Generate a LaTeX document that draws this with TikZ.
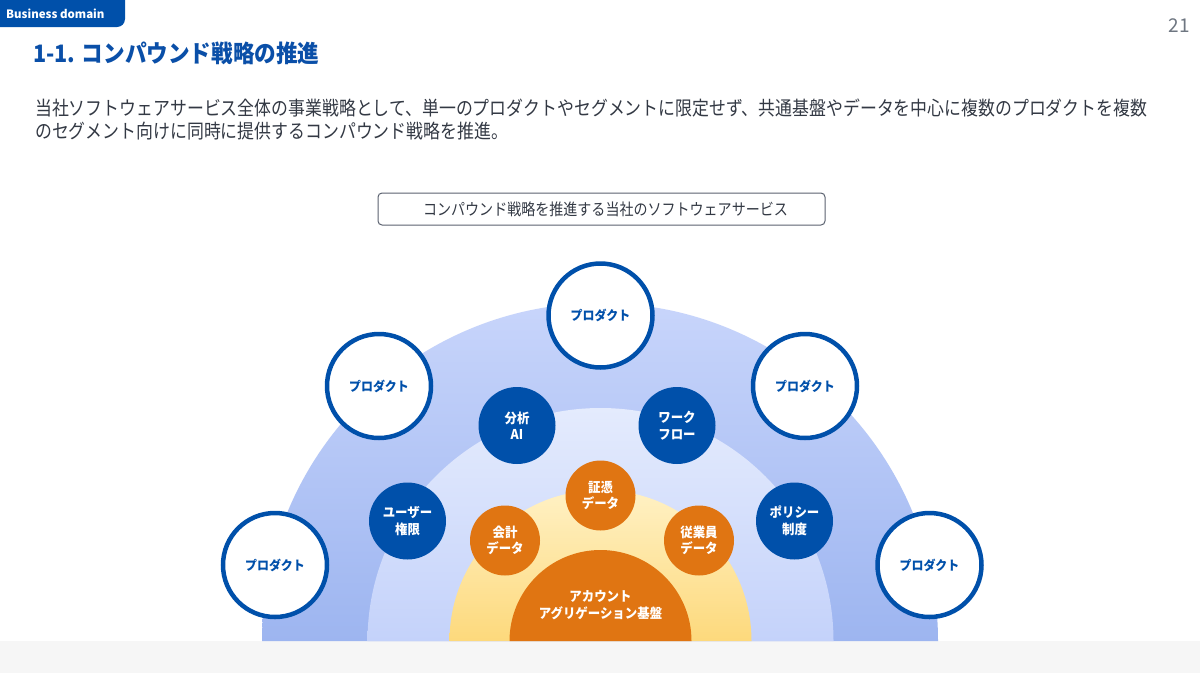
\documentclass[tikz,border=0pt]{standalone}
\usepackage{fontspec}
\setmainfont{Noto Sans CJK JP}
\newfontfamily\cjkc[FakeStretch=0.866]{Noto Sans CJK JP}
\newfontfamily\cjkl[FakeStretch=0.92]{Noto Sans CJK JP}
\newfontfamily\cjkt[FakeStretch=0.9]{Noto Sans CJK JP}
\definecolor{cblue}{HTML}{0050AA}
\definecolor{titleblue}{HTML}{0A4FA8}
\definecolor{txtgray}{HTML}{333944}
\definecolor{numgray}{HTML}{6E7681}
\definecolor{boxgray}{HTML}{5B6270}
\definecolor{bandgray}{HTML}{F6F6F6}
\definecolor{corange}{HTML}{E07512}
\definecolor{outtop}{HTML}{C8D5FB}
\definecolor{outbot}{HTML}{9DB5F0}
\definecolor{midtop}{HTML}{E4EBFD}
\definecolor{midbot}{HTML}{C4D2FA}
\definecolor{yeltop}{HTML}{FFF1C4}
\definecolor{yelbot}{HTML}{FDD97C}
\tikzset{
  prod/.style={circle, draw=cblue, line width=4.5pt, fill=white, minimum size=104pt, inner sep=0pt,
    text=cblue, font=\cjkl\bfseries\fontsize{13}{16}\selectfont},
  darkc/.style={circle, fill=cblue, minimum size=77pt, inner sep=0pt, align=center,
    text=white, font=\cjkl\bfseries\fontsize{13.5}{16.5}\selectfont},
  orac/.style={circle, fill=corange, minimum size=70pt, inner sep=0pt, align=center,
    text=white, font=\cjkl\bfseries\fontsize{13.5}{16.5}\selectfont},
  para/.style={anchor=west, inner sep=0pt, text=txtgray, font=\cjkc\fontsize{19.5}{24}\selectfont}
}
\begin{document}
\begin{tikzpicture}[x=1pt,y=-1pt]
\useasboundingbox (0,0) rectangle (1200,673);
\fill[white] (0,0) rectangle (1200,673);
\fill[bandgray] (0,641) rectangle (1200,673);
% tab
\fill[cblue, rounded corners=8pt] (-20,-20) rectangle (125,27);
\node[anchor=west, inner sep=0pt, text=white, font=\bfseries\fontsize{11.5}{14}\selectfont] (tab) at (6,13.5) {Business domain};
% title
\node[anchor=west, inner sep=0pt, text=titleblue, font=\cjkt\bfseries\fontsize{24}{28}\selectfont] (title) at (33,53) {1-1. コンパウンド戦略の推進};
\node[anchor=east, inner sep=0pt, text=numgray, font=\fontsize{19}{22}\selectfont] (pg) at (1190,26) {21};
% paragraph
\node[para] (l1) at (35,108) {当社ソフトウェアサービス全体の事業戦略として、単一のプロダクトやセグメントに限定せず、共通基盤やデータを中心に複数のプロダクトを複数};
\node[para] (l2) at (35,131) {のセグメント向けに同時に提供するコンパウンド戦略を推進。};
% header box
\node[draw=boxgray, line width=1pt, rounded corners=4pt, minimum width=447pt, minimum height=32pt, inner sep=0pt,
  text=txtgray, font=\cjkc\fontsize{16.2}{20}\selectfont] (hdr) at (601.5,209) {\hspace{8pt}コンパウンド戦略を推進する当社のソフトウェアサービス};
% arches
\shade[top color=outtop, bottom color=outbot] (262,641) arc[start angle=180, end angle=0, radius=338pt] -- cycle;
\shade[top color=midtop, bottom color=midbot] (367.5,641) arc[start angle=180, end angle=0, radius=233pt] -- cycle;
\shade[top color=yeltop, bottom color=yelbot] (449.5,641) arc[start angle=180, end angle=0, radius=151pt] -- cycle;
\fill[corange] (509.5,641) arc[start angle=180, end angle=0, radius=91pt] -- cycle;
\node[align=center, inner sep=0pt, text=white, font=\cjkl\bfseries\fontsize{13.5}{16.5}\selectfont] (core) at (600.5,605) {アカウント\\アグリゲーション基盤};
% orange circles
\node[orac] (o1) at (600.5,495.5) {証憑\\データ};
\node[orac] (o2) at (505,540.5) {会計\\データ};
\node[orac] (o3) at (699,540.5) {従業員\\データ};
% dark blue circles
\node[darkc] (d1) at (517,425.5) {分析\\AI};
\node[darkc] (d2) at (677,425.5) {ワーク\\フロー};
\node[darkc] (d3) at (407.5,521) {ユーザー\\権限};
\node[darkc] (d4) at (794.5,521) {ポリシー\\制度};
% product circles
\node[prod] (p1) at (275,565) {プロダクト};
\node[prod] (p2) at (379,386) {プロダクト};
\node[prod] (p3) at (600.5,315.5) {プロダクト};
\node[prod] (p4) at (805,386) {プロダクト};
\node[prod] (p5) at (929.5,565) {プロダクト};
\end{tikzpicture}
\end{document}
